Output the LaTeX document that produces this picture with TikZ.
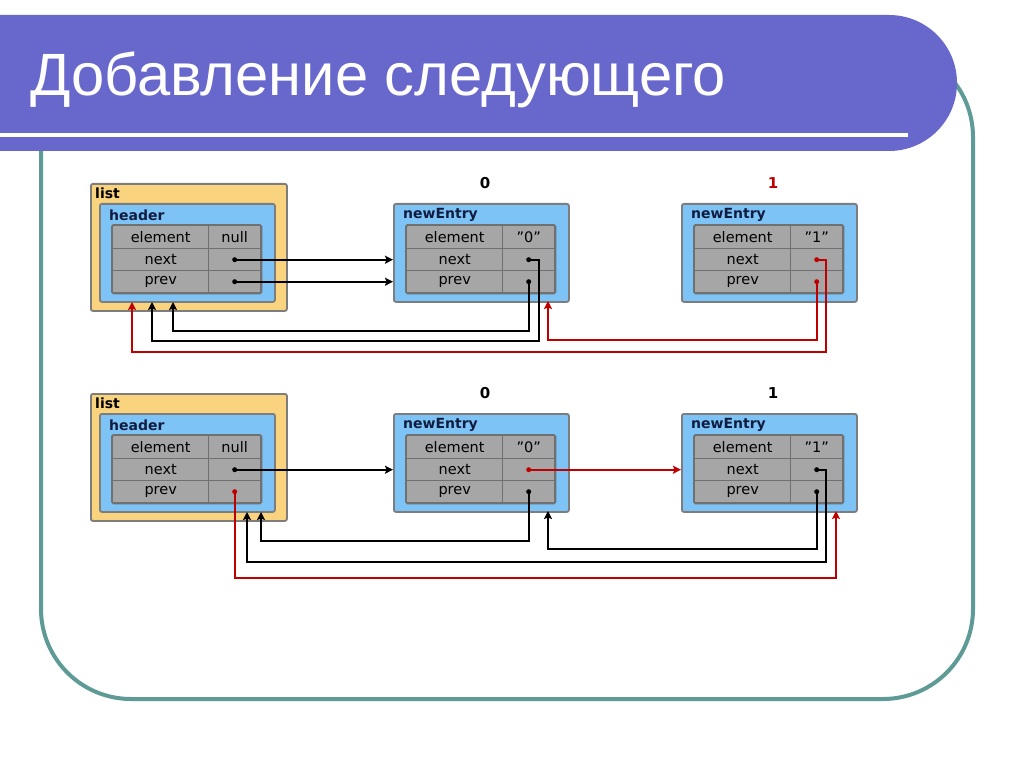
\documentclass[tikz,border=0pt]{standalone}
\usepackage{fontspec}
\setmainfont{DejaVu Sans}
\newfontfamily\titlefont{Liberation Sans}
\usetikzlibrary{arrows.meta}
\definecolor{bannercol}{RGB}{103,103,204}
\definecolor{framecol}{RGB}{95,155,150}
\definecolor{listfill}{RGB}{249,211,125}
\definecolor{boxfill}{RGB}{125,195,245}
\definecolor{cellfill}{RGB}{166,166,166}
\definecolor{cellline}{RGB}{112,112,112}
\definecolor{boxline}{RGB}{125,125,125}
\definecolor{lblcol}{RGB}{16,28,64}
\definecolor{linkred}{RGB}{192,0,0}
\tikzset{
 listbox/.style={draw=boxline, fill=listfill, line width=1.8pt, rounded corners=2pt, inner sep=0, anchor=north west, minimum width=196pt, minimum height=127pt},
 entrybox/.style={draw=boxline, fill=boxfill, line width=1.8pt, rounded corners=2pt, inner sep=0, anchor=north west, minimum width=175pt, minimum height=98pt},
 cell/.style={draw=cellline, fill=cellfill, line width=1.4pt, inner sep=0, anchor=north west, font=\fontsize{14.5}{15}\selectfont, text=black},
 lblcell/.style={cell, minimum width=96pt},
 valcell/.style={cell, minimum width=52pt},
 boxlabel/.style={anchor=west, inner sep=0, font=\bfseries\fontsize{14}{15}\selectfont, text=lblcol},
 idxlabel/.style={anchor=center, inner sep=0, font=\bfseries\fontsize{15}{16}\selectfont},
 dotn/.style={circle, fill=#1, inner sep=0, minimum size=5pt},
 conn/.style={draw=#1, line width=2pt, -{Stealth[length=8pt,width=8pt,inset=1.5pt]}},
}
\newcommand{\ebox}[5]{%
 \node[entrybox] (#1) at (#2,#3) {};
 \node[boxlabel] (#1-t) at (#2+10,#3+12) {#4};
 \node[lblcell, minimum height=23pt] (#1-el) at (#2+13,#3+22) {element};
 \node[valcell, minimum height=23pt] (#1-ev) at (#2+109,#3+22) {#5};
 \node[lblcell, minimum height=22pt] (#1-nl) at (#2+13,#3+45) {next};
 \node[valcell, minimum height=22pt] (#1-nv) at (#2+109,#3+45) {};
 \node[lblcell, minimum height=22pt] (#1-pl) at (#2+13,#3+67) {prev};
 \node[valcell, minimum height=22pt] (#1-pv) at (#2+109,#3+67) {};
 \draw[cellline, line width=1.8pt, rounded corners=1.5pt] (#1-el.north west) rectangle (#1-pv.south east);
}
\begin{document}
\begin{tikzpicture}[x=1pt,y=-1pt]
\useasboundingbox (0,0) rectangle (1024,767);
\clip (0,0) rectangle (1024,767);
\fill[white] (0,0) rectangle (1024,767);
% frame and banner
\draw[framecol, line width=4pt, rounded corners=90pt] (41,47) rectangle (973,699);
\fill[bannercol, rounded corners=68pt] (-100,15) rectangle (957,151);
\draw[white, line width=4pt] (-5,135) -- (908,135);
\node[anchor=base west, inner sep=0, text=white, font=\titlefont\fontsize{58}{60}\selectfont] (title) at (30,96) {\resizebox{696pt}{!}{Добавление следующего}};

% ---------- top row ----------
\node[listbox] (L) at (90,183) {};
\node[boxlabel, text=black] (L-t) at (95,193) {list};
\ebox{h}{99}{203}{header}{null}
\ebox{a}{393}{203}{newEntry}{”0”}
\ebox{b}{681}{203}{newEntry}{”1”}
\node[idxlabel] (a-i) at (485,183) {0};
\node[idxlabel, text=linkred] (b-i) at (773,183) {1};
\node[dotn=black] (hn) at (h-nv.center) {};
\node[dotn=black] (hp) at (h-pv.center) {};
\node[dotn=black] (an) at (a-nv.center) {};
\node[dotn=black] (ap) at (a-pv.center) {};
\node[dotn=linkred] (bn) at (b-nv.center) {};
\node[dotn=linkred] (bp) at (b-pv.center) {};
\coordinate (hA) at (132,302);
\coordinate (hB) at (152,302);
\coordinate (hC) at (173,302);
\coordinate (ain) at (548,301);
\coordinate (k1) at (539,341);
\coordinate (k2) at (173,331);
\coordinate (k3) at (826,352);
\coordinate (k4) at (548,340);
\draw[conn=black] (hn) -- (a.west |- hn);
\draw[conn=black] (hp) -- (a.west |- hp);
\draw[conn=black] (an) -| (k1) -| (hB);
\draw[conn=black] (ap) |- (k2) -- (hC);
\draw[conn=linkred] (bn) -| (k3) -| (hA);
\draw[conn=linkred] (bp) |- (k4) -- (ain);

% ---------- bottom row ----------
\node[listbox] (L2) at (90,393) {};
\node[boxlabel, text=black] (L2-t) at (95,403) {list};
\ebox{H}{99}{413}{header}{null}
\ebox{A}{393}{413}{newEntry}{”0”}
\ebox{B}{681}{413}{newEntry}{”1”}
\node[idxlabel] (A-i) at (485,393) {0};
\node[idxlabel] (B-i) at (773,393) {1};
\node[dotn=black] (Hn) at (H-nv.center) {};
\node[dotn=linkred] (Hp) at (H-pv.center) {};
\node[dotn=linkred] (An) at (A-nv.center) {};
\node[dotn=black] (Ap) at (A-pv.center) {};
\node[dotn=black] (Bn) at (B-nv.center) {};
\node[dotn=black] (Bp) at (B-pv.center) {};
\coordinate (HB) at (247,512);
\coordinate (HC) at (261,512);
\coordinate (Ain) at (548,511);
\coordinate (Bin) at (836,511);
\coordinate (m1) at (836,578);
\coordinate (m2) at (261,541);
\coordinate (m3) at (826,562);
\coordinate (m4) at (548,549);
\draw[conn=black] (Hn) -- (A.west |- Hn);
\draw[conn=linkred] (Hp) |- (m1) -- (Bin);
\draw[conn=linkred] (An) -- (B.west |- An);
\draw[conn=black] (Ap) |- (m2) -- (HC);
\draw[conn=black] (Bn) -| (m3) -| (HB);
\draw[conn=black] (Bp) |- (m4) -- (Ain);
\end{tikzpicture}
\end{document}
